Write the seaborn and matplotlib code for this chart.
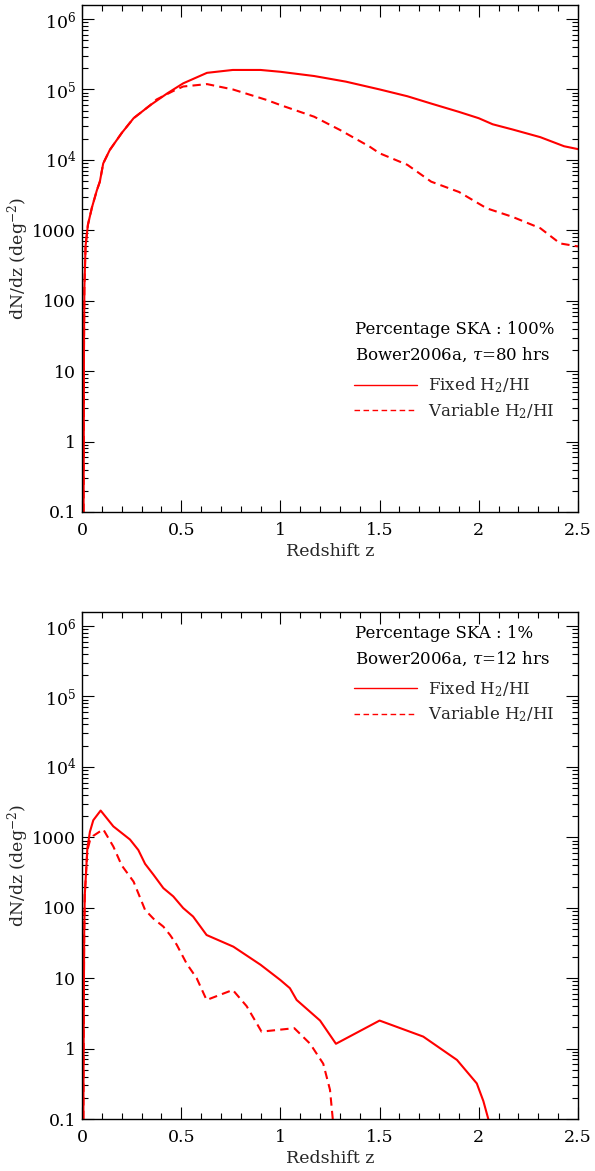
import numpy as np
import pandas as pd
import matplotlib
matplotlib.use("Agg")
import matplotlib.pyplot as plt
import matplotlib.ticker as mticker
import seaborn as sns

# top panel: 100% SKA, tau = 80 hrs
z_top_fixed = [0.008, 0.009, 0.010, 0.012, 0.018, 0.03, 0.05, 0.075, 0.09, 0.107, 0.14, 0.2, 0.26,
               0.345, 0.43, 0.51, 0.63, 0.76, 0.9, 1.0, 1.17, 1.33, 1.5, 1.64, 1.76, 1.9, 2.0,
               2.07, 2.17, 2.31, 2.43, 2.5]
n_top_fixed = [0.1, 1, 20, 150, 600, 1200, 2100, 3700, 4900, 8900, 13800, 24000, 39000,
               60000, 88000, 122000, 172000, 189000, 189000, 178000, 155000, 129000, 100000,
               80000, 63000, 48000, 39000, 32000, 27000, 21000, 15600, 14200]
z_top_var = [0.008, 0.009, 0.010, 0.012, 0.018, 0.03, 0.05, 0.075, 0.09, 0.107, 0.14, 0.2, 0.26,
             0.345, 0.376, 0.46, 0.51, 0.63, 0.76, 0.93, 1.0, 1.17, 1.3, 1.45, 1.5, 1.64, 1.76,
             1.9, 2.04, 2.17, 2.31, 2.41, 2.5]
n_top_var = [0.1, 1, 20, 150, 600, 1200, 2100, 3700, 4900, 8900, 13800, 24000, 39000,
             60000, 72000, 95000, 110000, 119000, 100000, 71000, 60000, 41000, 26600, 15400,
             12400, 8500, 4900, 3500, 2050, 1550, 1070, 650, 590]

# bottom panel: 1% SKA, tau = 12 hrs
z_bot_fixed = [0.007, 0.009, 0.011, 0.014, 0.02, 0.027, 0.04, 0.057, 0.094, 0.158, 0.242, 0.284,
               0.318, 0.36, 0.41, 0.46, 0.51, 0.56, 0.628, 0.763, 0.9, 1.0, 1.048, 1.082, 1.2,
               1.28, 1.5, 1.72, 1.89, 1.99, 2.023, 2.048]
n_bot_fixed = [0.1, 3, 40, 150, 300, 700, 1200, 1750, 2400, 1430, 930, 660,
               420, 295, 190, 145, 99, 75, 41, 28, 15.5, 9.4, 7.2, 4.9, 2.5,
               1.17, 2.5, 1.48, 0.69, 0.32, 0.18, 0.1]
z_bot_var = [0.007, 0.009, 0.011, 0.014, 0.02, 0.027, 0.04, 0.057, 0.107, 0.158, 0.2, 0.26,
             0.318, 0.36, 0.41, 0.444, 0.477, 0.528, 0.578, 0.628, 0.76, 0.83, 0.905, 1.07,
             1.15, 1.216, 1.25, 1.264]
n_bot_var = [0.1, 3, 40, 150, 300, 650, 900, 1050, 1300, 740, 400, 235,
             93, 70, 54, 41, 30, 16, 10, 4.9, 6.8, 4.0, 1.74, 1.95,
             1.17, 0.61, 0.26, 0.1]

panels = [
    ("100%", "80", z_top_fixed, n_top_fixed, z_top_var, n_top_var, 0.359),
    ("1%", "12", z_bot_fixed, n_bot_fixed, z_bot_var, n_bot_var, 0.958),
]

sns.set_style("ticks")
plt.rcParams["font.family"] = ["DejaVu Serif"]
plt.rcParams["mathtext.fontset"] = "dejavuserif"
FS = 12.5
FT = 12


def ylab(v, pos):
    if v >= 1e4:
        return r"$10^{%d}$" % round(np.log10(v))
    if v >= 1:
        return "%d" % v
    return "%g" % v


fig = plt.figure(figsize=(5.95, 11.71), dpi=100)
axes_pos = [[0.1378, 0.5628, 0.8336, 0.433], [0.1378, 0.0444, 0.8336, 0.433]]

for pos, (pct, tau, zf, nf, zv, nv, ytxt) in zip(axes_pos, panels):
    ax = fig.add_axes(pos)
    fixed = pd.DataFrame({"z": zf, "n": nf})
    var = pd.DataFrame({"z": zv, "n": nv})
    sns.lineplot(data=fixed, x="z", y="n", ax=ax, color="red", lw=1.5, sort=False,
                 label=r"Fixed H$_2$/HI")
    sns.lineplot(data=var, x="z", y="n", ax=ax, color="red", lw=1.5, sort=False,
                 label=r"Variable H$_2$/HI")
    ax.lines[1].set_dashes((4, 2.5))
    ax.set_yscale("log")
    ax.set_xlim(0, 2.5)
    ax.set_ylim(0.1, 10 ** 6.2)
    ax.xaxis.set_major_locator(mticker.MultipleLocator(0.5))
    ax.xaxis.set_minor_locator(mticker.MultipleLocator(0.1))
    ax.xaxis.set_major_formatter(mticker.FuncFormatter(lambda v, p: "%g" % v))
    ax.yaxis.set_major_locator(mticker.LogLocator(base=10, numticks=20))
    ax.yaxis.set_minor_locator(mticker.LogLocator(base=10, subs=np.arange(2, 10), numticks=20))
    ax.yaxis.set_major_formatter(mticker.FuncFormatter(ylab))
    ax.yaxis.set_minor_formatter(mticker.NullFormatter())
    ax.tick_params(which="both", direction="in", top=True, right=True, labelsize=FS,
                   width=0.8, colors="black")
    ax.tick_params(which="major", length=8.5, pad=4)
    ax.tick_params(axis="x", which="major", pad=7)
    ax.tick_params(which="minor", length=4.5)
    for s in ax.spines.values():
        s.set_linewidth(1.0)
        s.set_color("black")
    ax.set_xlabel("Redshift z", fontsize=FS, labelpad=3)
    ax.set_ylabel(r"dN/dz (deg$^{-2}$)", fontsize=FS, labelpad=1)

    ax.text(0.55, ytxt, "Percentage SKA : %s" % pct, transform=ax.transAxes,
            fontsize=FT, va="center", ha="left", color="black")
    ax.text(0.55, ytxt - 0.05, r"Bower2006a, $\tau$=%s hrs" % tau, transform=ax.transAxes,
            fontsize=FT, va="center", ha="left", color="black")
    leg = ax.legend(loc="upper left", bbox_to_anchor=(0.548, ytxt - 0.09), frameon=False,
                    fontsize=FT, handlelength=3.8, handletextpad=0.65, borderpad=0,
                    borderaxespad=0, labelspacing=0.35)
    for h in leg.get_lines():
        h.set_linewidth(1.0)

fig.savefig("out.png", dpi=100)
